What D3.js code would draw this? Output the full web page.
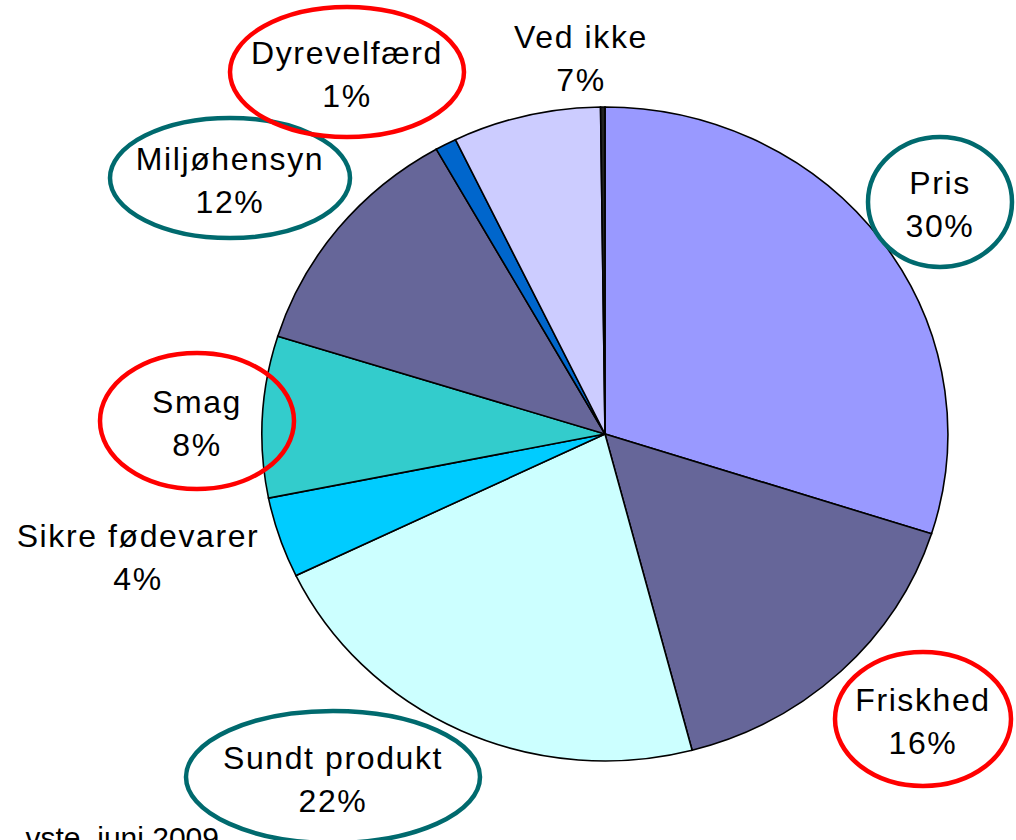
<!DOCTYPE html>
<html>
<head>
<meta charset="utf-8">
<script src="https://cdn.jsdelivr.net/npm/d3@7"></script>
<style>
  body { margin: 0; background: #fff; }
  svg { display: block; }
  text { font-family: "Liberation Sans", Arial, sans-serif; }
</style>
</head>
<body>
<div id="chart"></div>
<script>
// slices clockwise from 12 o'clock
const categories = ['Pris', 'Friskhed', 'Sundt produkt', 'Sikre fødevarer', 'Smag',
  'Miljøhensyn', 'Dyrevelfærd', 'Ved ikke', ''];
const values = [30, 16, 22, 4, 8, 12, 1, 7, 0.2];
const percentLabels = ['30%', '16%', '22%', '4%', '8%', '12%', '1%', '7%', ''];
const fills = ['#9999ff', '#666699', '#ccffff', '#00ccff', '#33cccc',
  '#666699', '#0066cc', '#ccccff', '#222222'];
// which labels get a ring round them
const rings = ['teal', 'red', 'teal', null, 'red', 'teal', 'red', null, null];
const source = 'vste, juni 2009';

const width = 1016, height = 840;
const cx = 605, cy = 434, rx = 343, ry = 327;

const svg = d3.select('#chart').append('svg')
  .attr('width', width).attr('height', height);

const pie = d3.pie().sort(null).value(d => d.value);
const arcs = pie(categories.map((c, i) => ({ name: c, value: values[i], i })));
const arc = d3.arc().innerRadius(0).outerRadius(1);

const g = svg.append('g')
  .attr('transform', `translate(${cx},${cy}) scale(${rx},${ry})`);
g.selectAll('path')
  .data(arcs)
  .join('path')
  .attr('d', arc)
  .attr('fill', d => fills[d.data.i])
  .attr('stroke', '#000')
  .attr('stroke-width', 1.6)
  .attr('vector-effect', 'non-scaling-stroke');

// label placement (centre of text block, ring radii)
const labelPos = [
  { x: 940, y: 202, rx: 72, ry: 65 },
  { x: 923, y: 719, rx: 88, ry: 67 },
  { x: 333, y: 777, rx: 147, ry: 66 },
  { x: 138, y: 555, rx: 0, ry: 0 },
  { x: 197, y: 421, rx: 97, ry: 68 },
  { x: 230, y: 178, rx: 120, ry: 60 },
  { x: 347, y: 72, rx: 117, ry: 65 },
  { x: 581, y: 56, rx: 0, ry: 0 }
];
const ringColor = { red: '#ff0000', teal: '#006a6e' };

const labels = svg.append('g');
labelPos.forEach((p, i) => {
  if (rings[i]) {
    labels.append('ellipse')
      .attr('cx', p.x).attr('cy', p.y)
      .attr('rx', p.rx).attr('ry', p.ry)
      .attr('fill', 'none')
      .attr('stroke', ringColor[rings[i]])
      .attr('stroke-width', 4.5);
  }
  const t = labels.append('text')
    .attr('text-anchor', 'middle')
    .attr('font-size', 32)
    .attr('letter-spacing', 1.6)
    .attr('fill', '#000');
  t.append('tspan').attr('x', p.x).attr('y', p.y - 8).text(categories[i]);
  t.append('tspan').attr('x', p.x).attr('y', p.y + 35).text(percentLabels[i]);
});

svg.append('text')
  .attr('x', 219).attr('y', 848)
  .attr('text-anchor', 'end')
  .attr('font-family', '"Liberation Serif", "Times New Roman", serif')
  .attr('font-size', 30)
  .text(source);
</script>
</body>
</html>
